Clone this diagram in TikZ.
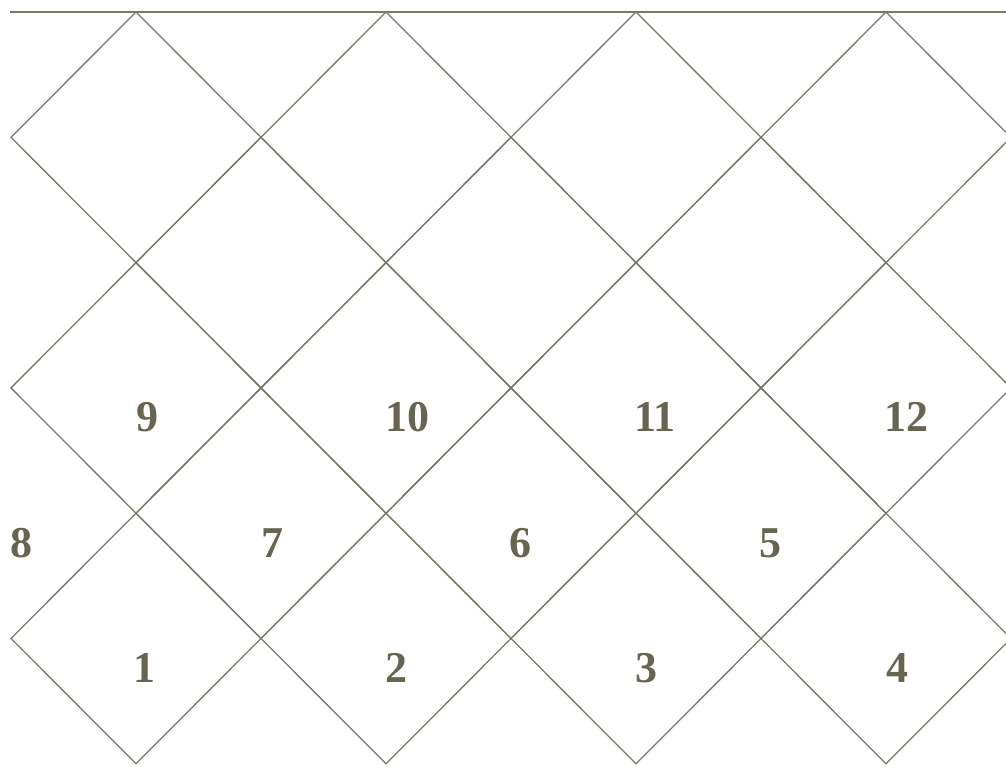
\documentclass[tikz,border=0pt]{standalone}
\usepackage{fontspec}
\setmainfont{Liberation Serif}
\definecolor{lat}{HTML}{7A7868}
\definecolor{lab}{HTML}{67654F}
\begin{document}
\begin{tikzpicture}[x=1pt,y=-1pt,
  grid/.style={draw=lat,line width=1.3pt,line join=miter},
  topline/.style={draw=lat,line width=2.6pt},
  lbl/.style={text=lab,font=\fontsize{44}{44}\selectfont\bfseries,inner sep=0pt}]
\useasboundingbox (0,0) rectangle (1006,767);
\begin{scope}
\clip (0,0) rectangle (1006,767);
\foreach \i in {0,...,3}{
  \foreach \j in {0,1,2}{
    \draw[grid,shift={({136+250*\i},{12+125.3*(2*\j+1)})}]
      (0,-125.3) -- (125,0) -- (0,125.3) -- (-125,0) -- cycle;
  }
}
\foreach \i in {0,1,2}{
  \foreach \j in {1,2}{
    \draw[grid,shift={({261+250*\i},{12+125.3*(2*\j)})}]
      (0,-125.3) -- (125,0) -- (0,125.3) -- (-125,0) -- cycle;
  }
}
\end{scope}
\draw[topline] (10,12) -- (1006,12);
\node[lbl] (l1) at (144,668) {1};
\node[lbl] (l2) at (396,668) {2};
\node[lbl] (l3) at (646,668) {3};
\node[lbl] (l4) at (897,668) {4};
\node[lbl] (l5) at (770,543) {5};
\node[lbl] (l6) at (520,543) {6};
\node[lbl] (l7) at (272,543) {7};
\node[lbl] (l8) at (21,543) {8};
\node[lbl] (l9) at (147,417) {9};
\node[lbl] (l10) at (407,417) {10};
\node[lbl] (l11) at (655,417) {11};
\node[lbl] (l12) at (906,417) {12};
\end{tikzpicture}
\end{document}
